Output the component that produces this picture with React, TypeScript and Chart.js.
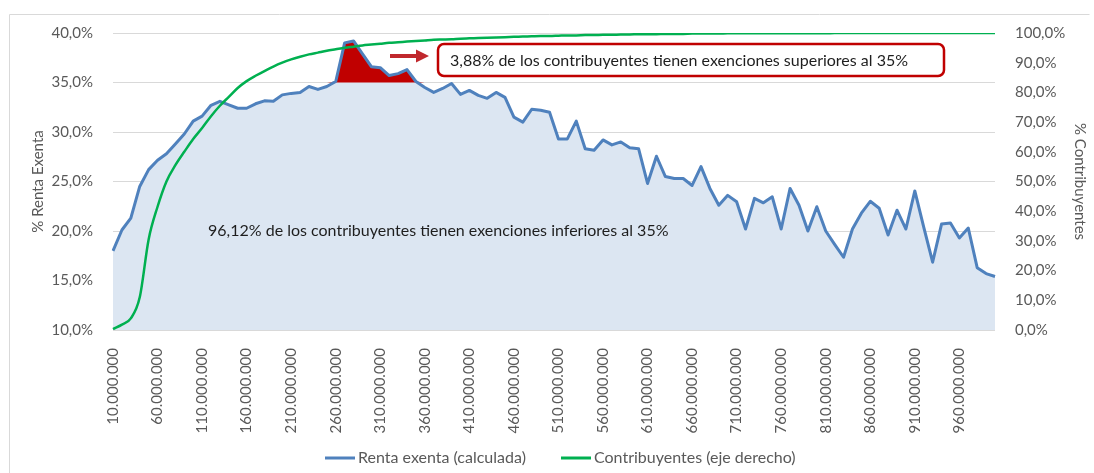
import React, { useEffect, useRef } from 'react';
import { Chart, registerables } from 'chart.js';

Chart.register(...registerables);

// Income brackets, in millions
const incomeMillions = [
  10, 20, 30, 40, 50, 60, 70, 80, 90, 100,
  110, 120, 130, 140, 150, 160, 170, 180, 190, 200,
  210, 220, 230, 240, 250, 260, 270, 280, 290, 300,
  310, 320, 330, 340, 350, 360, 370, 380, 390, 400,
  410, 420, 430, 440, 450, 460, 470, 480, 490, 500,
  510, 520, 530, 540, 550, 560, 570, 580, 590, 600,
  610, 620, 630, 640, 650, 660, 670, 680, 690, 700,
  710, 720, 730, 740, 750, 760, 770, 780, 790, 800,
  810, 820, 830, 840, 850, 860, 870, 880, 890, 900,
  910, 920, 930, 940, 950, 960, 970, 980, 990, 1000,
];

// % Renta exenta (calculada)
const rentaExenta = [
  18.0, 20.1, 21.3, 24.5, 26.2, 27.15, 27.8, 28.8, 29.8, 31.1,
  31.6, 32.7, 33.1, 32.75, 32.4, 32.4, 32.85, 33.15, 33.1, 33.75,
  33.9, 34.0, 34.6, 34.3, 34.6, 35.1, 39.0, 39.2, 37.9, 36.6,
  36.5, 35.7, 35.9, 36.3, 35.1, 34.5, 34.0, 34.4, 34.9, 33.8,
  34.2, 33.7, 33.4, 34.0, 33.5, 31.5, 31.0, 32.3, 32.2, 32.0,
  29.3, 29.3, 31.1, 28.3, 28.15, 29.2, 28.7, 29.0, 28.4, 28.3,
  24.8, 27.55, 25.5, 25.3, 25.3, 24.6, 26.5, 24.3, 22.6, 23.6,
  22.95, 20.2, 23.3, 22.85, 23.45, 20.2, 24.3, 22.6, 20.0, 22.45,
  20.0, 18.65, 17.35, 20.2, 21.8, 23.0, 22.3, 19.6, 22.1, 20.2,
  24.05, 20.4, 16.85, 20.7, 20.8, 19.3, 20.3, 16.3, 15.7, 15.4,
];

// % Contribuyentes acumulados (eje derecho)
const contribuyentes = [
  0.3, 1.8, 3.9, 11.0, 30.5, 41.5, 50.0, 55.5, 60.0, 64.3,
  68.0, 72.0, 75.5, 78.5, 81.5, 83.8, 85.6, 87.2, 88.7, 90.0,
  91.1, 92.0, 92.8, 93.4, 94.0, 94.5, 95.0, 95.4, 95.8, 96.1,
  96.4, 96.7, 96.9, 97.1, 97.3, 97.5, 97.7, 97.8, 97.9, 98.1,
  98.2, 98.3, 98.4, 98.5, 98.6, 98.7, 98.8, 98.9, 99.0, 99.0,
  99.1, 99.2, 99.2, 99.3, 99.3, 99.4, 99.4, 99.5, 99.5, 99.6,
  99.6, 99.6, 99.7, 99.7, 99.7, 99.8, 99.8, 99.8, 99.8, 99.9,
  99.9, 99.9, 99.9, 99.9, 99.9, 99.9, 99.9, 99.9, 99.9, 99.9,
  99.9, 100.0, 100.0, 100.0, 100.0, 100.0, 100.0, 100.0, 100.0, 100.0,
  100.0, 100.0, 100.0, 100.0, 100.0, 100.0, 100.0, 100.0, 100.0, 100.0,
];

const THRESHOLD = 35;
const labelEvery = 5;
const leftTicks = { min: 10, max: 40, step: 5 };
const rightTicks = { min: 0, max: 100, step: 10 };

const seriesNames = ['Renta exenta (calculada)', 'Contribuyentes (eje derecho)'];
const leftTitle = '% Renta Exenta';
const rightTitle = '% Contribuyentes';
const noteBelow = '96,12% de los contribuyentes tienen exenciones inferiores al 35%';
const noteAbove = '3,88% de los contribuyentes tienen exenciones superiores al 35%';

const fmtThousands = (n: number) => String(n).replace(/\B(?=(\d{3})+(?!\d))/g, '.');
const categories = incomeMillions.map((m) => fmtThousands(m * 1000000));
const pct = (v: number) => v.toFixed(1).replace('.', ',') + '%';
// portion of the series above the threshold (clamped to the threshold elsewhere)
const aboveThreshold = rentaExenta.map((v) => Math.max(v, THRESHOLD));

const FONT = 'Lato, "Open Sans", sans-serif';
const BLUE = '#4F81BD';
const GREEN = '#00B050';
const RED = '#C00000';
const AREA = '#DCE6F2';
const TXT = '#595959';

const overlayPlugin = {
  id: 'overlay',
  beforeDraw(chart: any) {
    const ctx = chart.ctx;
    ctx.save();
    ctx.strokeStyle = '#D9D9D9';
    ctx.lineWidth = 1;
    ctx.beginPath();
    ctx.moveTo(9.5, 480);
    ctx.lineTo(9.5, 14.5);
    ctx.lineTo(1089.5, 14.5);
    ctx.stroke();
    ctx.restore();
  },
  afterDraw(chart: any) {
    const ctx = chart.ctx;
    ctx.save();
    // inner annotation
    ctx.font = `16px ${FONT}`;
    ctx.fillStyle = '#1E1E1E';
    ctx.textBaseline = 'middle';
    ctx.textAlign = 'left';
    ctx.fillText(noteBelow, 208, 231);

    // boxed annotation
    const bx = 438, by = 44, bw = 506, bh = 32, r = 6;
    ctx.beginPath();
    ctx.moveTo(bx + r, by);
    ctx.lineTo(bx + bw - r, by);
    ctx.arcTo(bx + bw, by, bx + bw, by + r, r);
    ctx.lineTo(bx + bw, by + bh - r);
    ctx.arcTo(bx + bw, by + bh, bx + bw - r, by + bh, r);
    ctx.lineTo(bx + r, by + bh);
    ctx.arcTo(bx, by + bh, bx, by + bh - r, r);
    ctx.lineTo(bx, by + r);
    ctx.arcTo(bx, by, bx + r, by, r);
    ctx.closePath();
    ctx.fillStyle = '#FFFFFF';
    ctx.fill();
    ctx.lineWidth = 2.5;
    ctx.strokeStyle = RED;
    ctx.stroke();
    ctx.fillStyle = '#1E1E1E';
    ctx.fillText(noteAbove, 450, 61);

    // arrow
    ctx.fillStyle = '#C0282D';
    ctx.beginPath();
    ctx.moveTo(390, 54);
    ctx.lineTo(416, 54);
    ctx.lineTo(416, 49.5);
    ctx.lineTo(429, 56);
    ctx.lineTo(416, 62.5);
    ctx.lineTo(416, 58);
    ctx.lineTo(390, 58);
    ctx.closePath();
    ctx.fill();

    // legend
    const ly = 458;
    const items = [
      { x: 325, color: BLUE, text: seriesNames[0] },
      { x: 561, color: GREEN, text: seriesNames[1] },
    ];
    ctx.font = `16px ${FONT}`;
    items.forEach((it) => {
      ctx.strokeStyle = it.color;
      ctx.lineWidth = 3;
      ctx.beginPath();
      ctx.moveTo(it.x, ly);
      ctx.lineTo(it.x + 30, ly);
      ctx.stroke();
      ctx.fillStyle = TXT;
      ctx.fillText(it.text, it.x + 33, ly);
    });
    ctx.restore();
  },
};

export default function App() {
  const ref = useRef<HTMLCanvasElement | null>(null);

  useEffect(() => {
    document.body.style.margin = '0';
    const canvas = ref.current;
    if (!canvas) return;
    const chart = new Chart(canvas, {
      type: 'line',
      data: {
        labels: categories,
        datasets: [
          {
            label: seriesNames[0],
            data: rentaExenta,
            yAxisID: 'y',
            borderColor: BLUE,
            borderWidth: 3,
            pointRadius: 0,
            tension: 0,
            fill: false,
            order: 1,
            borderJoinStyle: 'round',
          },
          {
            label: seriesNames[1],
            data: contribuyentes,
            yAxisID: 'y1',
            borderColor: GREEN,
            borderWidth: 2.5,
            pointRadius: 0,
            cubicInterpolationMode: 'monotone',
            fill: false,
            order: 0,
          },
          {
            label: 'above',
            data: aboveThreshold,
            yAxisID: 'y',
            borderWidth: 0,
            borderColor: 'rgba(0,0,0,0)',
            backgroundColor: RED,
            pointRadius: 0,
            tension: 0,
            fill: { value: THRESHOLD },
            order: 2,
          },
          {
            label: 'area',
            data: rentaExenta,
            yAxisID: 'y',
            borderWidth: 0,
            borderColor: 'rgba(0,0,0,0)',
            backgroundColor: AREA,
            pointRadius: 0,
            tension: 0,
            fill: 'start',
            order: 3,
          },
        ],
      },
      options: {
        animation: false,
        responsive: true,
        maintainAspectRatio: false,
        layout: { padding: { top: 33, left: 0, right: 0, bottom: 0 } },
        plugins: {
          legend: { display: false },
          tooltip: { enabled: false },
        },
        scales: {
          x: {
            type: 'category',
            offset: false,
            grid: { display: false },
            border: { display: false },
            ticks: {
              autoSkip: false,
              maxRotation: 90,
              minRotation: 90,
              padding: 10,
              color: TXT,
              font: { family: FONT, size: 15 },
              callback: (_v: any, i: number) => (i % labelEvery === 0 ? categories[i] : ''),
            },
            afterFit: (s: any) => { s.height = 143; },
          },
          y: {
            position: 'left',
            min: leftTicks.min,
            max: leftTicks.max,
            grid: { color: '#D9D9D9', drawTicks: false },
            border: { display: false },
            ticks: {
              stepSize: leftTicks.step,
              padding: 20,
              color: TXT,
              font: { family: FONT, size: 15 },
              callback: (v: any) => pct(Number(v)),
            },
            title: {
              display: true,
              text: leftTitle,
              color: TXT,
              font: { family: FONT, size: 15 },
              padding: { top: 29, bottom: 0 },
            },
            afterFit: (s: any) => { s.width = 113; },
          },
          y1: {
            position: 'right',
            min: rightTicks.min,
            max: rightTicks.max,
            grid: { display: false, drawTicks: false },
            border: { display: false },
            ticks: {
              stepSize: rightTicks.step,
              padding: 20,
              color: TXT,
              font: { family: FONT, size: 15 },
              callback: (v: any) => pct(Number(v)),
            },
            title: {
              display: true,
              text: rightTitle,
              color: TXT,
              font: { family: FONT, size: 15 },
              padding: { top: 5, bottom: 0 },
            },
            afterFit: (s: any) => { s.width = 99; },
          },
        },
      },
      plugins: [overlayPlugin],
    });
    return () => chart.destroy();
  }, []);

  return (
    <div style={{ position: 'relative', width: '1094px', height: '473px' }}>
      <canvas ref={ref} />
    </div>
  );
}
